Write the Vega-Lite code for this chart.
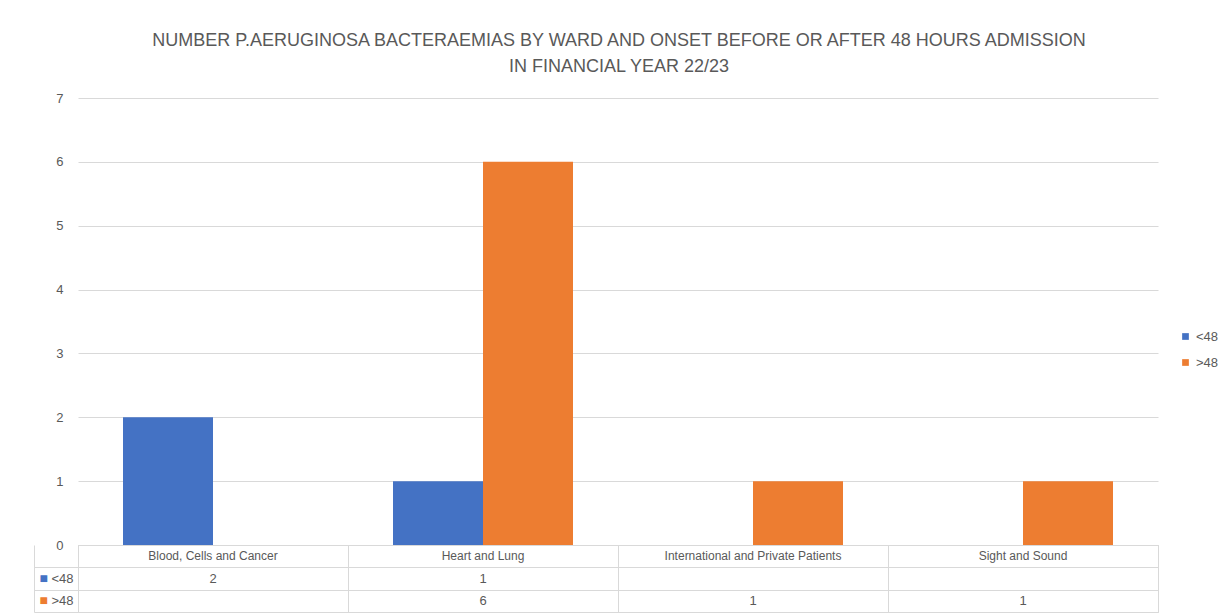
{
  "$schema": "https://vega.github.io/schema/vega-lite/v6.json",
  "padding": {"left": 33, "top": 32, "right": 5, "bottom": 2},
  "title": {
    "text": ["NUMBER P.AERUGINOSA BACTERAEMIAS BY WARD AND ONSET BEFORE OR AFTER 48 HOURS ADMISSION", "IN FINANCIAL YEAR 22/23"],
    "fontSize": 18,
    "font": "Liberation Sans",
    "fontWeight": "normal",
    "color": "#595959",
    "anchor": "middle",
    "dx": -7,
    "offset": 16,
    "lineHeight": 26
  },
  "data": {
    "values": [
      {"ward": "Blood, Cells and Cancer", "onset": "<48", "count": 2},
      {"ward": "Blood, Cells and Cancer", "onset": ">48", "count": null},
      {"ward": "Heart and Lung", "onset": "<48", "count": 1},
      {"ward": "Heart and Lung", "onset": ">48", "count": 6},
      {"ward": "International and Private Patients", "onset": "<48", "count": null},
      {"ward": "International and Private Patients", "onset": ">48", "count": 1},
      {"ward": "Sight and Sound", "onset": "<48", "count": null},
      {"ward": "Sight and Sound", "onset": ">48", "count": 1}
    ]
  },
  "spacing": 0,
  "bounds": "flush",
  "resolve": {"legend": {"color": "independent"}},
  "config": {
    "view": {"stroke": null},
    "font": "Liberation Sans",
    "axis": {"labelFont": "Liberation Sans"},
    "legend": {"labelFont": "Liberation Sans"}
  },
  "vconcat": [
    {
      "width": 1080,
      "height": 447,
      "mark": {"type": "bar"},
      "encoding": {
        "x": {"field": "ward", "type": "nominal", "sort": null, "scale": {"paddingInner": 0, "paddingOuter": 0}, "axis": null},
        "xOffset": {"field": "onset", "type": "nominal", "sort": ["<48", ">48"], "scale": {"paddingInner": 0, "paddingOuter": 0.5}},
        "y": {
          "field": "count",
          "type": "quantitative",
          "scale": {"domain": [0, 7]},
          "axis": {
            "title": null,
            "values": [0, 1, 2, 3, 4, 5, 6, 7],
            "domain": false,
            "ticks": false,
            "tickSize": 0,
            "labelPadding": 15,
            "gridColor": "#d9d9d9",
            "labelColor": "#595959",
            "labelFontSize": 13
          }
        },
        "color": {
          "field": "onset",
          "type": "nominal",
          "scale": {"domain": ["<48", ">48"], "range": ["#4472C4", "#ED7D31"]},
          "legend": {
            "title": null,
            "orient": "none",
            "legendX": 1101,
            "legendY": 232,
            "symbolType": "square",
            "symbolSize": 45,
            "symbolStrokeWidth": 0,
            "labelFontSize": 13,
            "labelColor": "#595959",
            "labelOffset": 4,
            "rowPadding": 12,
            "padding": 0
          }
        }
      }
    },
    {
      "width": 1080,
      "height": 67,
      "view": {"stroke": "#d9d9d9"},
      "resolve": {"axis": {"y": "independent"}},
      "layer": [
        {
          "transform": [{"filter": "datum.onset == '<48'"}],
          "mark": {"type": "text", "fontSize": 12, "color": "#595959"},
          "encoding": {
            "x": {
              "field": "ward", "type": "nominal", "sort": null,
              "scale": {"paddingInner": 0, "paddingOuter": 0},
              "axis": {"title": null, "labels": false, "ticks": false, "domain": false, "grid": true, "gridColor": "#d9d9d9", "tickBand": "extent"}
            },
            "y": {
              "datum": "ward",
              "type": "nominal",
              "scale": {"domain": ["ward", "<48", ">48"], "paddingInner": 0, "paddingOuter": 0},
              "axis": {
                "orient": "left",
                "title": null,
                "domain": false,
                "grid": true,
                "gridColor": "#d9d9d9",
                "tickBand": "extent",
                "ticks": true,
                "tickSize": 44,
                "tickColor": {"condition": {"test": "datum.extra", "value": "transparent"}, "value": "#d9d9d9"},
                "labelExpr": "datum.value == 'ward' ? '' : datum.value",
                "labelAlign": "left",
                "labelPadding": -17,
                "labelColor": "#595959",
                "labelFontSize": 13
              }
            },
            "text": {"field": "ward"}
          }
        },
        {
          "transform": [{"filter": "datum.count != null"}],
          "mark": {"type": "text", "fontSize": 13, "color": "#595959"},
          "encoding": {
            "x": {
              "field": "ward", "type": "nominal", "sort": null,
              "axis": {"title": null, "labels": false, "ticks": false, "domain": false, "grid": true, "gridColor": "#d9d9d9", "tickBand": "extent"}
            },
            "y": {
              "field": "onset",
              "type": "nominal",
              "axis": {
                "orient": "left",
                "offset": 44,
                "title": null,
                "domain": true,
                "domainColor": "#d9d9d9",
                "grid": false,
                "ticks": false,
                "tickSize": 0,
                "labelExpr": "datum.value == 'ward' ? '' : '■'",
                "labelAlign": "left",
                "labelPadding": -5,
                "labelFontSize": 14,
                "labelColor": {"condition": {"test": "datum.value == '<48'", "value": "#4472C4"}, "value": "#ED7D31"}
              }
            },
            "text": {"field": "count", "type": "quantitative"}
          }
        }
      ]
    }
  ]
}
